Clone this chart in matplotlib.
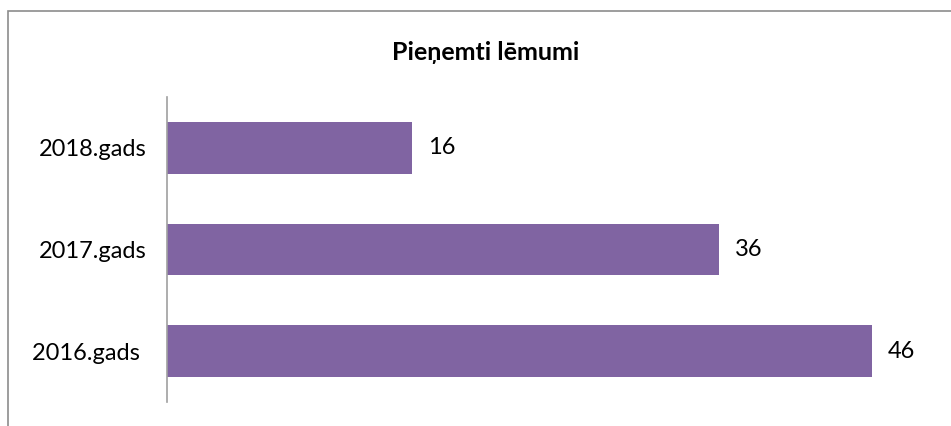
import matplotlib.pyplot as plt
from matplotlib.patches import Rectangle

years = ['2016.gads ', '2017.gads', '2018.gads']
values = [46, 36, 16]
bar_color = '#8064A2'

plt.rcParams['font.family'] = ['Lato', 'DejaVu Sans']

fig = plt.figure(figsize=(9.51, 4.26), dpi=100)
W, H = 951, 426
# plot area in pixels: left 167, top 97, bottom 402
ax = fig.add_axes([167 / W, 1 - 402 / H, (933 - 167) / W, (402 - 97) / H])

pos = list(range(len(years)))
ax.barh(pos, values, height=0.51, color=bar_color)
for p, v in zip(pos, values):
    ax.text(v + 1.05, p, str(v), va='center', ha='left', fontsize=17)

ax.set_xlim(0, 50)
ax.set_ylim(-0.5, 2.5)
ax.set_yticks(pos)
ax.set_yticklabels(years, fontsize=17)
ax.tick_params(axis='y', length=0, pad=15)
ax.set_xticks([])
for s in ['top', 'right', 'bottom']:
    ax.spines[s].set_visible(False)
ax.spines['left'].set_color('#A0A0A0')
ax.spines['left'].set_linewidth(1.2)

fig.text(486 / W, 1 - 52 / H, 'Pieņemti lēmumi', ha='center', va='center',
         fontsize=18, fontweight='bold')

# chart border
fig.patches.append(Rectangle((8 / W, -0.01), 1.0, 1 - 11 / H + 0.01,
                             transform=fig.transFigure, fill=False,
                             edgecolor='#8C8C8C', linewidth=1.2))

fig.savefig('out.png', dpi=100)
